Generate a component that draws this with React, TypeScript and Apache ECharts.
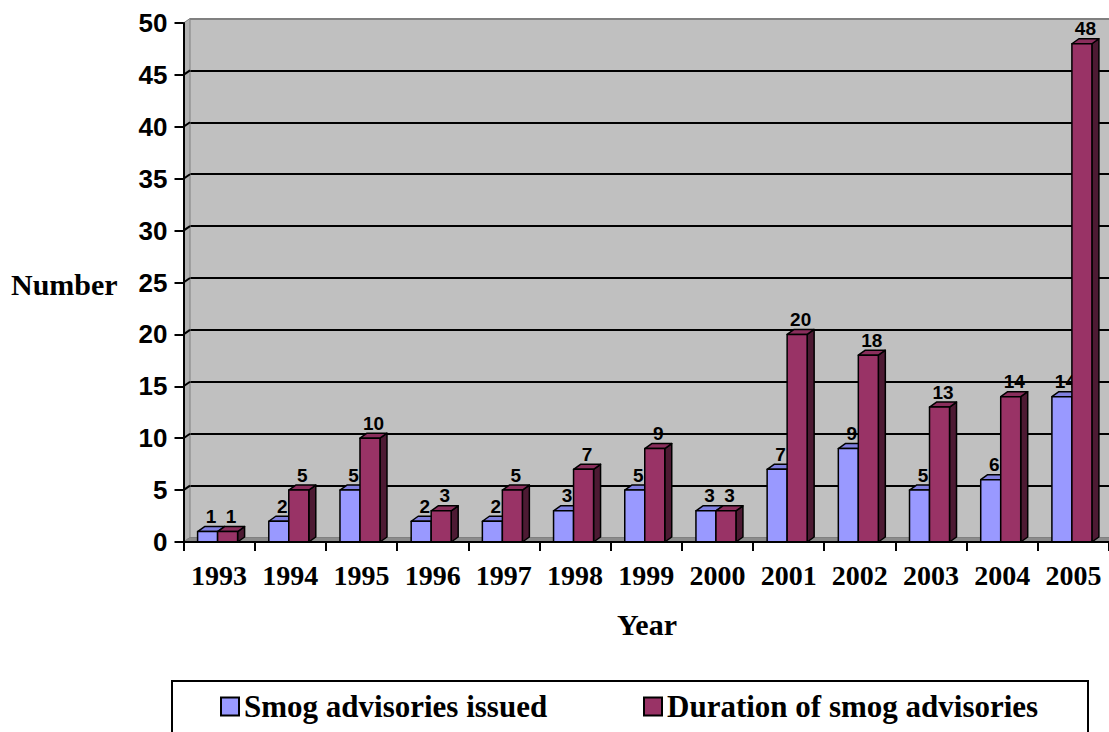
import React, { useEffect, useRef } from "react";
import * as echarts from "echarts";

const YEARS = ["1993", "1994", "1995", "1996", "1997", "1998", "1999", "2000", "2001", "2002", "2003", "2004", "2005"];
const SMOG_ISSUED = [1, 2, 5, 2, 2, 3, 5, 3, 7, 9, 5, 6, 14];
const SMOG_DURATION = [1, 5, 10, 3, 5, 7, 9, 3, 20, 18, 13, 14, 48];
const Y_TICKS = [0, 5, 10, 15, 20, 25, 30, 35, 40, 45, 50];
const SERIES_NAMES = ["Smog advisories issued", "Duration of smog advisories"];

// layout
const GL = 183.5;
const GT = 23;
const GH = 519;
const GW = 928;
const WDX = 6.5;
const WDY = -4.5;
const BAR_W = 20;
const BDX = 7;
const BDY = -5;
const SERIF = '"Liberation Serif", "Times New Roman", serif';
const SANS = '"Liberation Sans", Arial, sans-serif';

const yPix = (v: number) => GT + GH - (v / 50) * GH;

function makeRender(offset: number, front: string, topc: string, side: string) {
  return (params: any, api: any) => {
    const idx = api.value(0);
    const val = api.value(1);
    const base = api.coord([idx, 0]);
    const top = api.coord([idx, val]);
    const x0 = base[0] + offset;
    const x1 = x0 + BAR_W;
    const y0 = base[1];
    const y1 = top[1];
    const st = { stroke: "#000", lineWidth: 1.5, lineJoin: "round" };
    return {
      type: "group",
      children: [
        {
          type: "polygon",
          shape: { points: [[x1, y0], [x1 + BDX, y0 + BDY], [x1 + BDX, y1 + BDY], [x1, y1]] },
          style: { fill: side, ...st },
        },
        {
          type: "polygon",
          shape: { points: [[x0, y1], [x0 + BDX, y1 + BDY], [x1 + BDX, y1 + BDY], [x1, y1]] },
          style: { fill: topc, ...st },
        },
        {
          type: "rect",
          shape: { x: x0, y: y1, width: BAR_W, height: y0 - y1 },
          style: { fill: front, ...st },
        },
        {
          type: "text",
          style: {
            text: String(val),
            x: (x0 + x1) / 2 + BDX / 2,
            y: y1 + BDY - 0.5,
            align: "center",
            verticalAlign: "bottom",
            fontSize: 19,
            fontWeight: "bold",
            fontFamily: SANS,
            fill: "#000",
          },
        },
      ],
    };
  };
}

export default function App() {
  const ref = useRef<HTMLDivElement>(null);
  useEffect(() => {
    document.body.style.margin = "0";
    const chart = echarts.init(ref.current!, null, { renderer: "svg" });
    const graphics: any[] = [
      // side wall
      {
        type: "polygon",
        z: 1,
        shape: { points: [[GL, GT + GH], [GL, GT], [GL + WDX, GT + WDY], [GL + WDX, GT + GH + WDY]] },
        style: { fill: "#B2B2B2", stroke: "#808080", lineWidth: 1 },
      },
      // floor
      {
        type: "polygon",
        z: 1,
        shape: { points: [[GL, GT + GH], [GL + WDX, GT + GH + WDY], [GL + GW + WDX, GT + GH + WDY], [GL + GW, GT + GH]] },
        style: { fill: "#8C8C8C", stroke: "#808080", lineWidth: 1 },
      },
      ...Y_TICKS.filter((v) => v > 0 && v < 50).map((v) => ({
        type: "line",
        z: 1,
        shape: { x1: GL, y1: yPix(v), x2: GL + WDX, y2: yPix(v) + WDY },
        style: { stroke: "#000", lineWidth: 2 },
      })),
      {
        type: "text",
        style: { text: "Number", x: 11, y: 284, align: "left", verticalAlign: "middle", fontSize: 30, fontWeight: "bold", fontFamily: SERIF, fill: "#000" },
      },
      {
        type: "text",
        style: { text: "Year", x: 647, y: 624, align: "center", verticalAlign: "middle", fontSize: 30, fontWeight: "bold", fontFamily: SERIF, fill: "#000" },
      },
      {
        type: "rect",
        shape: { x: 172, y: 681, width: 916, height: 70 },
        style: { fill: "none", stroke: "#000", lineWidth: 2 },
      },
    ];
    const legendText = { fontSize: 31, fontWeight: "bold", fontFamily: SERIF, color: "#000" };
    chart.setOption({
      animation: false,
      grid: [
        { left: GL, top: GT, width: GW, height: GH, containLabel: false },
        { left: GL + WDX, top: GT + WDY, width: GW, height: GH, show: true, backgroundColor: "#C0C0C0", borderWidth: 0, z: 0 },
      ],
      xAxis: [
        {
          type: "category",
          gridIndex: 0,
          data: YEARS,
          z: 5,
          axisLine: { show: true, lineStyle: { color: "#000", width: 2 } },
          axisTick: { show: true, length: 9, lineStyle: { color: "#000", width: 2 } },
          axisLabel: { interval: 0, hideOverlap: false, margin: 19, fontSize: 28, fontWeight: "bold", fontFamily: SERIF, color: "#000" },
          splitLine: { show: false },
        },
        { type: "category", gridIndex: 1, data: YEARS, show: false },
      ],
      yAxis: [
        {
          type: "value",
          gridIndex: 0,
          min: 0,
          max: 50,
          interval: 5,
          z: 5,
          axisLine: { show: true, lineStyle: { color: "#000", width: 2 } },
          axisTick: { show: true, length: 9, lineStyle: { color: "#000", width: 2 } },
          axisLabel: { margin: 16, fontSize: 26, fontWeight: "bold", fontFamily: SANS, color: "#000" },
          splitLine: { show: false },
        },
        {
          type: "value",
          gridIndex: 1,
          min: 0,
          max: 50,
          interval: 5,
          axisLine: { show: false },
          axisTick: { show: false },
          axisLabel: { show: false },
          splitLine: {
            show: true,
            lineStyle: {
              width: 2,
              color: ["#808080", "#000", "#000", "#000", "#000", "#000", "#000", "#000", "#000", "#000", "#808080"],
            },
          },
        },
      ],
      legend: [
        {
          left: 220,
          top: 691,
          padding: 0,
          itemWidth: 18,
          itemHeight: 18,
          textStyle: legendText,
          data: [{ name: SERIES_NAMES[0], icon: "rect", itemStyle: { color: "#9999FF", borderColor: "#000", borderWidth: 2 } }],
        },
        {
          left: 643,
          top: 691,
          padding: 0,
          itemWidth: 18,
          itemHeight: 18,
          textStyle: legendText,
          data: [{ name: SERIES_NAMES[1], icon: "rect", itemStyle: { color: "#993366", borderColor: "#000", borderWidth: 2 } }],
        },
      ],
      graphic: graphics,
      series: [
        {
          name: SERIES_NAMES[0],
          type: "custom",
          xAxisIndex: 0,
          yAxisIndex: 0,
          z: 3,
          itemStyle: { color: "#9999FF" },
          renderItem: makeRender(-21.5, "#9999FF", "#8080E0", "#4D4D80"),
          encode: { x: 0, y: 1 },
          data: SMOG_ISSUED.map((v, i) => [i, v]),
        },
        {
          name: SERIES_NAMES[1],
          type: "custom",
          xAxisIndex: 0,
          yAxisIndex: 0,
          z: 4,
          itemStyle: { color: "#993366" },
          renderItem: makeRender(-1.5, "#993366", "#8A2E5C", "#4D1A33"),
          encode: { x: 0, y: 1 },
          data: SMOG_DURATION.map((v, i) => [i, v]),
        },
      ],
    });
    return () => chart.dispose();
  }, []);
  return <div ref={ref} style={{ width: 1109, height: 732 }} />;
}
